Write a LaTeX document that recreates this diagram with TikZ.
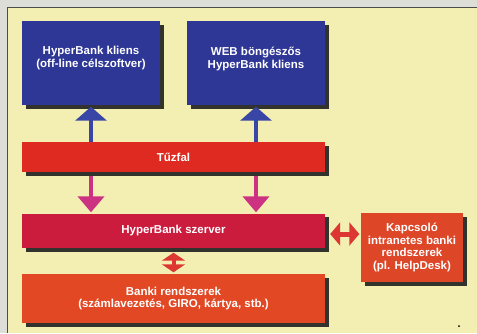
\documentclass[tikz,border=0pt]{standalone}
\usepackage{fontspec}
\setmainfont{Liberation Sans}
\usetikzlibrary{arrows.meta}
\pgfdeclarelayer{bg}
\pgfdeclarelayer{sh}
\pgfsetlayers{bg,sh,main}
\definecolor{bgy}{RGB}{243,239,178}
\definecolor{bggray}{RGB}{222,222,216}
\definecolor{cblue}{RGB}{46,54,150}
\definecolor{cfire}{RGB}{222,42,32}
\definecolor{csrv}{RGB}{204,28,62}
\definecolor{cbank}{RGB}{226,72,36}
\definecolor{ckap}{RGB}{222,70,40}
\definecolor{aup}{RGB}{58,70,165}
\definecolor{adown}{RGB}{205,50,130}
\definecolor{adbl}{RGB}{220,55,50}
\begin{document}
\begin{tikzpicture}[x=1pt,y=-1pt,
  box/.style={draw=none,rectangle,inner sep=0pt,text=white,align=center,
    font=\bfseries\fontsize{11.5}{12.8}\selectfont},
  lbl/.style={text=white,align=center,font=\bfseries\fontsize{11.5}{12.8}\selectfont},
  shad/.style={fill=black!88,opacity=0.9},
  upar/.style={draw=aup,line width=4.5pt,-{Triangle[width=31pt,length=14pt]}},
  downar/.style={draw=adown,line width=4.5pt,-{Triangle[width=26pt,length=16pt]}},
  dblv/.style={draw=adbl,line width=4pt,{Triangle[width=23pt,length=8pt]}-{Triangle[width=23pt,length=8pt]}},
  dblh/.style={draw=adbl,line width=5pt,{Triangle[width=23pt,length=10pt]}-{Triangle[width=23pt,length=10pt]}}
]
\useasboundingbox (0,0) rectangle (477,333);
\begin{pgfonlayer}{bg}
\fill[bggray] (0,0) rectangle (477,333);
\fill[bgy] (7,7) rectangle (477,333);
\draw[black!70,line width=0.8pt] (7,333) -- (7,7) -- (477,7);
\end{pgfonlayer}

\node[box,fill=cblue,minimum width=138pt,minimum height=84pt,
  label={[lbl,yshift=5pt]center:{HyperBank kliens\\(off-line célszoftver)}}] (b1) at (91,63) {};
\node[box,fill=cblue,minimum width=138pt,minimum height=84pt,
  label={[lbl,yshift=4pt]center:{WEB böngészős\\HyperBank kliens}}] (b2) at (256,63) {};
\node[box,fill=cfire,minimum width=303pt,minimum height=30pt] (tuz) at (173.5,157) {Tűzfal};
\node[box,fill=csrv,minimum width=303pt,minimum height=34pt] (srv) at (173.5,230.5) {HyperBank szerver};
\node[box,fill=cbank,minimum width=303pt,minimum height=49pt] (bank) at (173.5,298.5) {Banki rendszerek\\(számlavezetés, GIRO, kártya, stb.)};
\node[box,fill=ckap,minimum width=102pt,minimum height=69pt] (kap) at (412,247.5) {Kapcsoló\\intranetes banki\\rendszerek\\(pl. HelpDesk)};

\begin{pgfonlayer}{sh}
\foreach \n in {b1,b2,tuz,srv,bank,kap}
  \fill[shad] ([shift={(4,4)}]\n.north west) rectangle ([shift={(4,4)}]\n.south east);
\end{pgfonlayer}

\draw[upar] (tuz.north -| b1.center) -- ([yshift=-1.5pt]b1.south);
\draw[upar] (tuz.north -| b2.center) -- ([yshift=-1.5pt]b2.south);
\draw[downar] ([yshift=-4pt]tuz.south -| b1.center) -- ([yshift=1pt]srv.north -| b1.center);
\draw[downar] ([yshift=-4pt]tuz.south -| b2.center) -- ([yshift=1pt]srv.north -| b2.center);
\draw[dblv] ([yshift=-5pt]srv.south) -- ([yshift=1.5pt]bank.north);
\draw[dblh] ([xshift=5pt]srv.east |- 0,234) -- ([xshift=-1.5pt]kap.west |- 0,234);

\fill[black] (459,326) circle (1pt);
\end{tikzpicture}
\end{document}
